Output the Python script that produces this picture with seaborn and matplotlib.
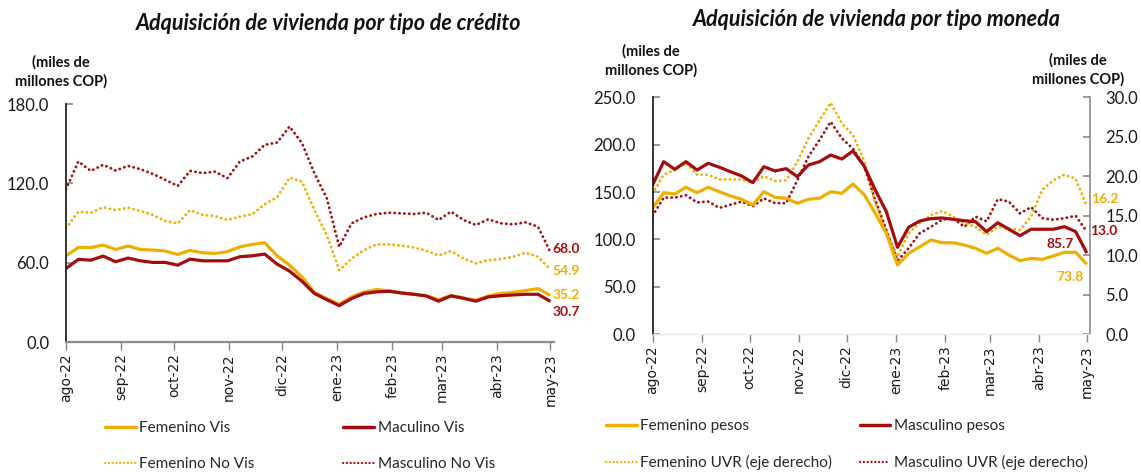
import numpy as np
import pandas as pd
import matplotlib
matplotlib.use("Agg")
import matplotlib.pyplot as plt
from matplotlib.lines import Line2D
import seaborn as sns

# ---------------- data ----------------
fem_vis = [65.2, 71.5, 71.5, 73.3, 70.0, 72.6, 70.0, 69.5, 68.8, 66.2,
           69.3, 67.5, 67.0, 68.3, 72.0, 73.8, 75.1, 65.2, 58.1, 49.3,
           37.5, 32.8, 28.5, 34.1, 37.9, 39.7, 38.7, 37.1, 36.1, 35.2,
           32.1, 35.2, 33.4, 31.5, 34.8, 36.7, 37.6, 38.9, 40.4, 35.2]
mas_vis = [55.6, 62.5, 61.9, 65.0, 60.7, 63.5, 61.4, 60.2, 60.2, 58.1,
           62.7, 61.4, 61.4, 61.4, 64.5, 65.2, 66.5, 58.9, 53.6, 46.0,
           36.7, 32.0, 27.5, 32.9, 36.7, 37.9, 38.4, 37.1, 36.1, 34.8,
           30.9, 34.9, 33.0, 30.9, 34.1, 35.0, 35.6, 36.1, 36.1, 30.7]
fem_novis = [86.0, 98.6, 97.8, 101.9, 99.8, 101.6, 99.1, 96.1, 91.5, 89.7,
             99.8, 96.1, 95.3, 92.3, 94.8, 96.6, 104.2, 109.5, 124.3, 121.3,
             99.8, 80.9, 54.3, 63.2, 69.5, 73.8, 73.8, 72.8, 71.5, 69.0,
             65.5, 68.8, 63.2, 59.4, 61.9, 62.7, 64.5, 67.5, 64.5, 54.9]
mas_novis = [115.5, 136.5, 129.4, 134.0, 129.7, 133.2, 130.7, 127.1, 122.6, 118.0,
             129.4, 127.7, 128.9, 123.9, 136.5, 140.3, 149.1, 150.9, 163.0, 150.4,
             127.7, 108.7, 72.0, 89.8, 94.3, 96.8, 97.8, 97.3, 96.8, 97.8,
             92.3, 98.6, 92.3, 88.5, 92.8, 89.8, 89.0, 90.5, 87.2, 68.0]

fem_pesos = [132.9, 149.4, 148.0, 155.1, 149.4, 155.1, 150.4, 145.9, 142.4, 136.4,
             150.4, 144.5, 143.5, 138.2, 142.4, 143.5, 150.4, 148.7, 158.5, 147.5,
             127.6, 106.5, 73.1, 85.4, 92.4, 99.5, 96.6, 96.6, 94.2, 90.7,
             85.4, 90.7, 83.6, 77.7, 80.1, 79.1, 82.6, 86.5, 86.5, 73.8]
mas_pesos = [157.5, 182.1, 174.0, 182.1, 173.3, 180.4, 176.2, 171.5, 167.0, 160.0,
             176.8, 172.3, 174.7, 166.3, 178.6, 182.1, 189.1, 184.9, 193.4, 177.5,
             152.2, 129.3, 91.8, 112.9, 119.5, 122.0, 122.7, 121.3, 119.8, 118.8,
             108.3, 117.7, 110.8, 104.0, 110.8, 110.8, 110.8, 113.5, 108.3, 85.7]
fem_uvr = [17.8, 20.2, 20.8, 21.7, 20.2, 20.2, 19.6, 19.6, 19.6, 19.2,
           20.0, 19.4, 19.5, 21.8, 24.8, 27.1, 29.3, 26.7, 25.2, 22.0,
           16.6, 13.0, 9.8, 12.8, 14.1, 15.1, 15.6, 14.9, 14.1, 13.6,
           12.6, 13.6, 13.4, 13.2, 14.9, 18.3, 19.5, 20.2, 19.7, 16.2]
mas_uvr = [15.0, 17.3, 17.3, 17.6, 16.7, 16.8, 16.0, 16.4, 16.8, 16.2,
           17.2, 16.6, 16.6, 19.5, 22.5, 24.6, 26.9, 24.8, 23.5, 21.3,
           17.0, 13.2, 9.3, 10.9, 12.8, 13.6, 14.5, 14.7, 13.6, 14.9,
           14.3, 17.1, 16.8, 15.3, 16.1, 14.7, 14.5, 14.7, 15.0, 13.0]

dates = pd.date_range("2022-08-01", periods=40, freq="7D")
month_ticks = pd.date_range("2022-08-01", "2023-05-01", freq="MS")
month_labels = ["ago-22", "sep-22", "oct-22", "nov-22", "dic-22",
                "ene-23", "feb-23", "mar-23", "abr-23", "may-23"]

titles = ["Adquisición de vivienda por tipo de crédito",
          "Adquisición de vivienda por tipo moneda"]
unit_label = "(miles de\nmillones COP)"
legend_left = ["Femenino Vis", "Maculino Vis", "Femenino No Vis", "Masculino No Vis"]
legend_right = ["Femenino pesos", "Masculino pesos",
                "Femenino UVR (eje derecho)", "Masculino UVR (eje derecho)"]

# ---------------- style ----------------
sns.set_theme(style="white")
plt.rcParams["font.family"] = ["Lato", "DejaVu Sans"]

YEL = "#EEB000"
RED = "#A30D0D"
DOT = (0, (0.1, 1.65))
LW_S = 2.3
LW_D = 2.0

df_left = pd.DataFrame({"fecha": dates, "fv": fem_vis, "mv": mas_vis,
                        "fnv": fem_novis, "mnv": mas_novis})
df_right = pd.DataFrame({"fecha": dates, "fp": fem_pesos, "mp": mas_pesos,
                         "fu": fem_uvr, "mu": mas_uvr})

fig = plt.figure(figsize=(11.41, 4.76), dpi=100)
ax1 = fig.add_axes([0.0578, 0.2815, 0.4277, 0.500])
ax2 = fig.add_axes([0.5719, 0.2977, 0.3834, 0.4979])
ax2r = ax2.twinx()


def plot_line(ax, df, col, color, dotted):
    sns.lineplot(data=df, x="fecha", y=col, ax=ax, color=color,
                 lw=LW_D if dotted else LW_S, legend=False,
                 solid_capstyle="butt", dash_capstyle="round")
    ln = ax.get_lines()[-1]
    if dotted:
        ln.set_linestyle(DOT)


# left chart
plot_line(ax1, df_left, "mnv", RED, True)
plot_line(ax1, df_left, "fnv", YEL, True)
plot_line(ax1, df_left, "fv", YEL, False)
plot_line(ax1, df_left, "mv", RED, False)

# right chart
plot_line(ax2r, df_right, "mu", RED, True)
plot_line(ax2r, df_right, "fu", YEL, True)
plot_line(ax2, df_right, "fp", YEL, False)
plot_line(ax2, df_right, "mp", RED, False)
ax2.set_zorder(ax2r.get_zorder() + 1)
ax2.patch.set_visible(False)

xlim = (dates[0], dates[-1] + pd.Timedelta(days=2))
for ax in (ax1, ax2, ax2r):
    ax.set_xlim(*xlim)
    ax.set_xlabel("")
    ax.set_ylabel("")

ax1.set_ylim(0, 180)
ax1.set_yticks([0, 60, 120, 180])
ax2.set_ylim(0, 250)
ax2.set_yticks(np.arange(0, 251, 50))
ax2r.set_ylim(0, 30)
ax2r.set_yticks(np.arange(0, 31, 5))

fmt = lambda v, p: f"{v:.1f}"
for ax in (ax1, ax2, ax2r):
    ax.yaxis.set_major_formatter(plt.FuncFormatter(fmt))

for ax in (ax1, ax2):
    ax.set_xticks(month_ticks)
    ax.set_xticklabels(month_labels, rotation=90, family="DejaVu Sans",
                       fontsize=10, color="#1a1a1a")
    ax.tick_params(axis="x", direction="out", length=6, width=1,
                   color="#888888", pad=2, bottom=True)
    ax.tick_params(axis="y", direction="in", length=5, width=1.2,
                   color="#888888", labelsize=12, labelcolor="#1a1a1a",
                   pad=12, left=True)
    for s in ("top", "right"):
        ax.spines[s].set_visible(False)
    ax.spines["left"].set_color("#111111")
    ax.spines["left"].set_linewidth(1.2)
    ax.grid(False)

ax1.spines["bottom"].set_color("#8c8c8c")
ax1.spines["bottom"].set_linewidth(1.6)
ax2.spines["bottom"].set_color("#e6e6e6")
ax2.spines["bottom"].set_linewidth(1.0)

ax2r.tick_params(axis="y", direction="in", length=5, width=1.2,
                 color="#888888", labelsize=12, labelcolor="#1a1a1a",
                 pad=11, right=True)
ax2r.tick_params(axis="x", bottom=False, labelbottom=False)
for s in ("top", "left", "bottom"):
    ax2r.spines[s].set_visible(False)
ax2r.spines["right"].set_color("#8c8c8c")
ax2r.spines["right"].set_linewidth(1.2)
ax2r.grid(False)

# titles and unit labels
fig.text(329 / 1141, 1 - 23 / 476, titles[0], ha="center", va="center",
         fontsize=15.5, fontweight="bold", fontstyle="italic", color="#111111")
fig.text(877 / 1141, 1 - 19 / 476, titles[1], ha="center", va="center",
         fontsize=15.5, fontweight="bold", fontstyle="italic", color="#111111")
for (x, y) in [(61, 72), (651, 61), (1078, 70)]:
    fig.text(x / 1141, 1 - y / 476, unit_label, ha="center", va="center",
             fontsize=10.5, fontweight="bold", color="#111111", linespacing=1.45)

# end labels
def end_label(ax, vals, color, dx, dy, ha="left"):
    v = vals[-1]
    ax.annotate(f"{v:.1f}", xy=(dates[-1], v), xytext=(dx, dy),
                textcoords="offset pixels", ha=ha, va="center",
                fontsize=10, fontweight="bold", color=color,
                annotation_clip=False)

end_label(ax1, mas_novis, RED, 2, 3)
end_label(ax1, fem_novis, YEL, 2, -2)
end_label(ax1, fem_vis, YEL, 2, 0)
end_label(ax1, mas_vis, RED, 2, -11)
end_label(ax2r, fem_uvr, YEL, 4, 7)
end_label(ax2r, mas_uvr, RED, 3, 1)
end_label(ax2, mas_pesos, RED, -13, 9, ha="right")
end_label(ax2, fem_pesos, YEL, -3, -13, ha="right")

# legends
def handles(names):
    return [Line2D([], [], color=YEL, lw=2.5, label=names[0]),
            Line2D([], [], color=YEL, lw=1.6, ls=(0, (0.1, 1.6)),
                   dash_capstyle="round", label=names[2]),
            Line2D([], [], color=RED, lw=2.5, label=names[1]),
            Line2D([], [], color=RED, lw=1.6, ls=(0, (0.1, 1.6)),
                   dash_capstyle="round", label=names[3])]

leg_kw = dict(ncol=2, frameon=False, fontsize=11, handlelength=2.0,
              handletextpad=0.25, labelspacing=1.45, borderpad=0,
              borderaxespad=0, loc="upper left")
fig.legend(handles=handles(legend_left), bbox_to_anchor=(105 / 1141, 1 - 421 / 476),
           columnspacing=5.8, **leg_kw)
fig.legend(handles=handles(legend_right), bbox_to_anchor=(606 / 1141, 1 - 419 / 476),
           columnspacing=1.8, **leg_kw)

fig.savefig("out.png", dpi=100)
